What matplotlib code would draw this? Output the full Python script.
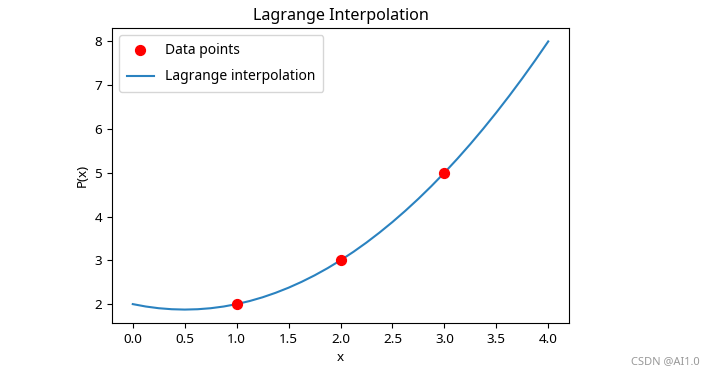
import matplotlib
matplotlib.use("Agg")
import matplotlib.pyplot as plt

plt.rcParams['font.family'] = ['Noto Sans', 'DejaVu Sans']

# Data points
x_points = [1, 2, 3]
y_points = [2, 3, 5]

# Interpolation curve values
curve_x = [0.0, 0.125, 0.25, 0.375, 0.5, 0.625, 0.75, 0.875, 1.0, 1.125, 1.25, 1.375,
           1.5, 1.625, 1.75, 1.875, 2.0, 2.125, 2.25, 2.375, 2.5, 2.625, 2.75, 2.875,
           3.0, 3.125, 3.25, 3.375, 3.5, 3.625, 3.75, 3.875, 4.0]
curve_y = [2.0, 1.945, 1.906, 1.883, 1.875, 1.883, 1.906, 1.945, 2.0, 2.070, 2.156, 2.258,
           2.375, 2.508, 2.656, 2.820, 3.0, 3.195, 3.406, 3.633, 3.875, 4.133, 4.406, 4.695,
           5.0, 5.320, 5.656, 6.008, 6.375, 6.758, 7.156, 7.570, 8.0]

fig = plt.figure(figsize=(7.18, 3.75), dpi=100)
ax = fig.add_axes([0.156, 0.1387, 0.6365, 0.7866])

ax.scatter(x_points, y_points, color='red', s=50, label='Data points', zorder=3)
ax.plot(curve_x, curve_y, color='#2a82c0', lw=1.5, label='Lagrange interpolation')

ax.set_title('Lagrange Interpolation', fontsize=11.6)
ax.set_xlabel('x', fontsize=9.7)
ax.set_ylabel('P(x)', fontsize=9.7)
ax.tick_params(labelsize=9.7)
ax.legend(loc='upper left', fontsize=10, labelspacing=0.85, borderpad=0.55)

fig.text(0.975, 0.037, 'CSDN @AI1.0', ha='right', va='center', fontsize=8, color='#999999')

fig.savefig('out.png', dpi=100)
